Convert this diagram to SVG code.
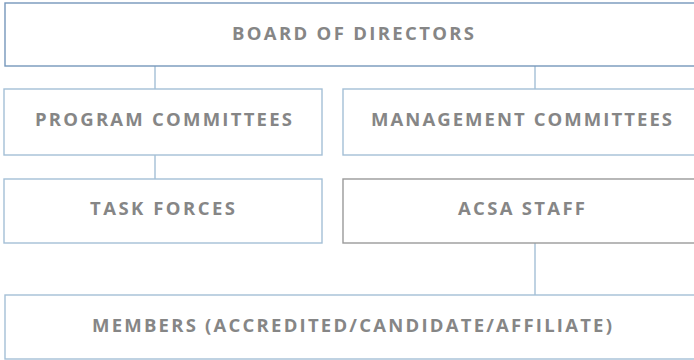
<svg xmlns="http://www.w3.org/2000/svg" width="694" height="360" viewBox="0 0 694 360">
<style>
.box{fill:#fff;stroke:#a4bfd6;stroke-width:1.4}
.top{stroke:#7697bb}
.staff{stroke:#9a9a9a}
.lbl{font-family:"Open Sans","Noto Sans",sans-serif;font-weight:700;font-size:18.5px;fill:#868686;text-anchor:middle}
.conn{stroke:#a4bfd6;stroke-width:1.4;fill:none}
</style>
<rect width="694" height="360" fill="#fff"/>
<g id="connectors">
<line class="conn" x1="155" y1="66" x2="155" y2="89"/>
<line class="conn" x1="535" y1="66" x2="535" y2="89"/>
<line class="conn" x1="155" y1="155" x2="155" y2="179"/>
<line class="conn" x1="535" y1="243" x2="535" y2="295"/>
</g>
<g id="board">
<rect class="box top" x="5" y="3" width="696" height="63"/>
<text class="lbl" x="353" y="40" textLength="242" lengthAdjust="spacing">BOARD OF DIRECTORS</text>
</g>
<g id="program">
<rect class="box" x="4" y="89" width="318" height="66"/>
<text class="lbl" x="163.5" y="126" textLength="257" lengthAdjust="spacing">PROGRAM COMMITTEES</text>
</g>
<g id="management">
<rect class="box" x="343" y="89" width="358" height="66"/>
<text class="lbl" x="521.5" y="126" textLength="301" lengthAdjust="spacing">MANAGEMENT COMMITTEES</text>
</g>
<g id="taskforces">
<rect class="box" x="4" y="179" width="318" height="64"/>
<text class="lbl" x="162.5" y="215" textLength="145" lengthAdjust="spacing">TASK FORCES</text>
</g>
<g id="staff">
<rect class="box staff" x="343" y="179" width="358" height="64"/>
<text class="lbl" x="521.5" y="215" textLength="127" lengthAdjust="spacing">ACSA STAFF</text>
</g>
<g id="members">
<rect class="box" x="5" y="295" width="696" height="64"/>
<text class="lbl" x="352" y="332" textLength="520" lengthAdjust="spacing">MEMBERS (ACCREDITED/CANDIDATE/AFFILIATE)</text>
</g>
</svg>
